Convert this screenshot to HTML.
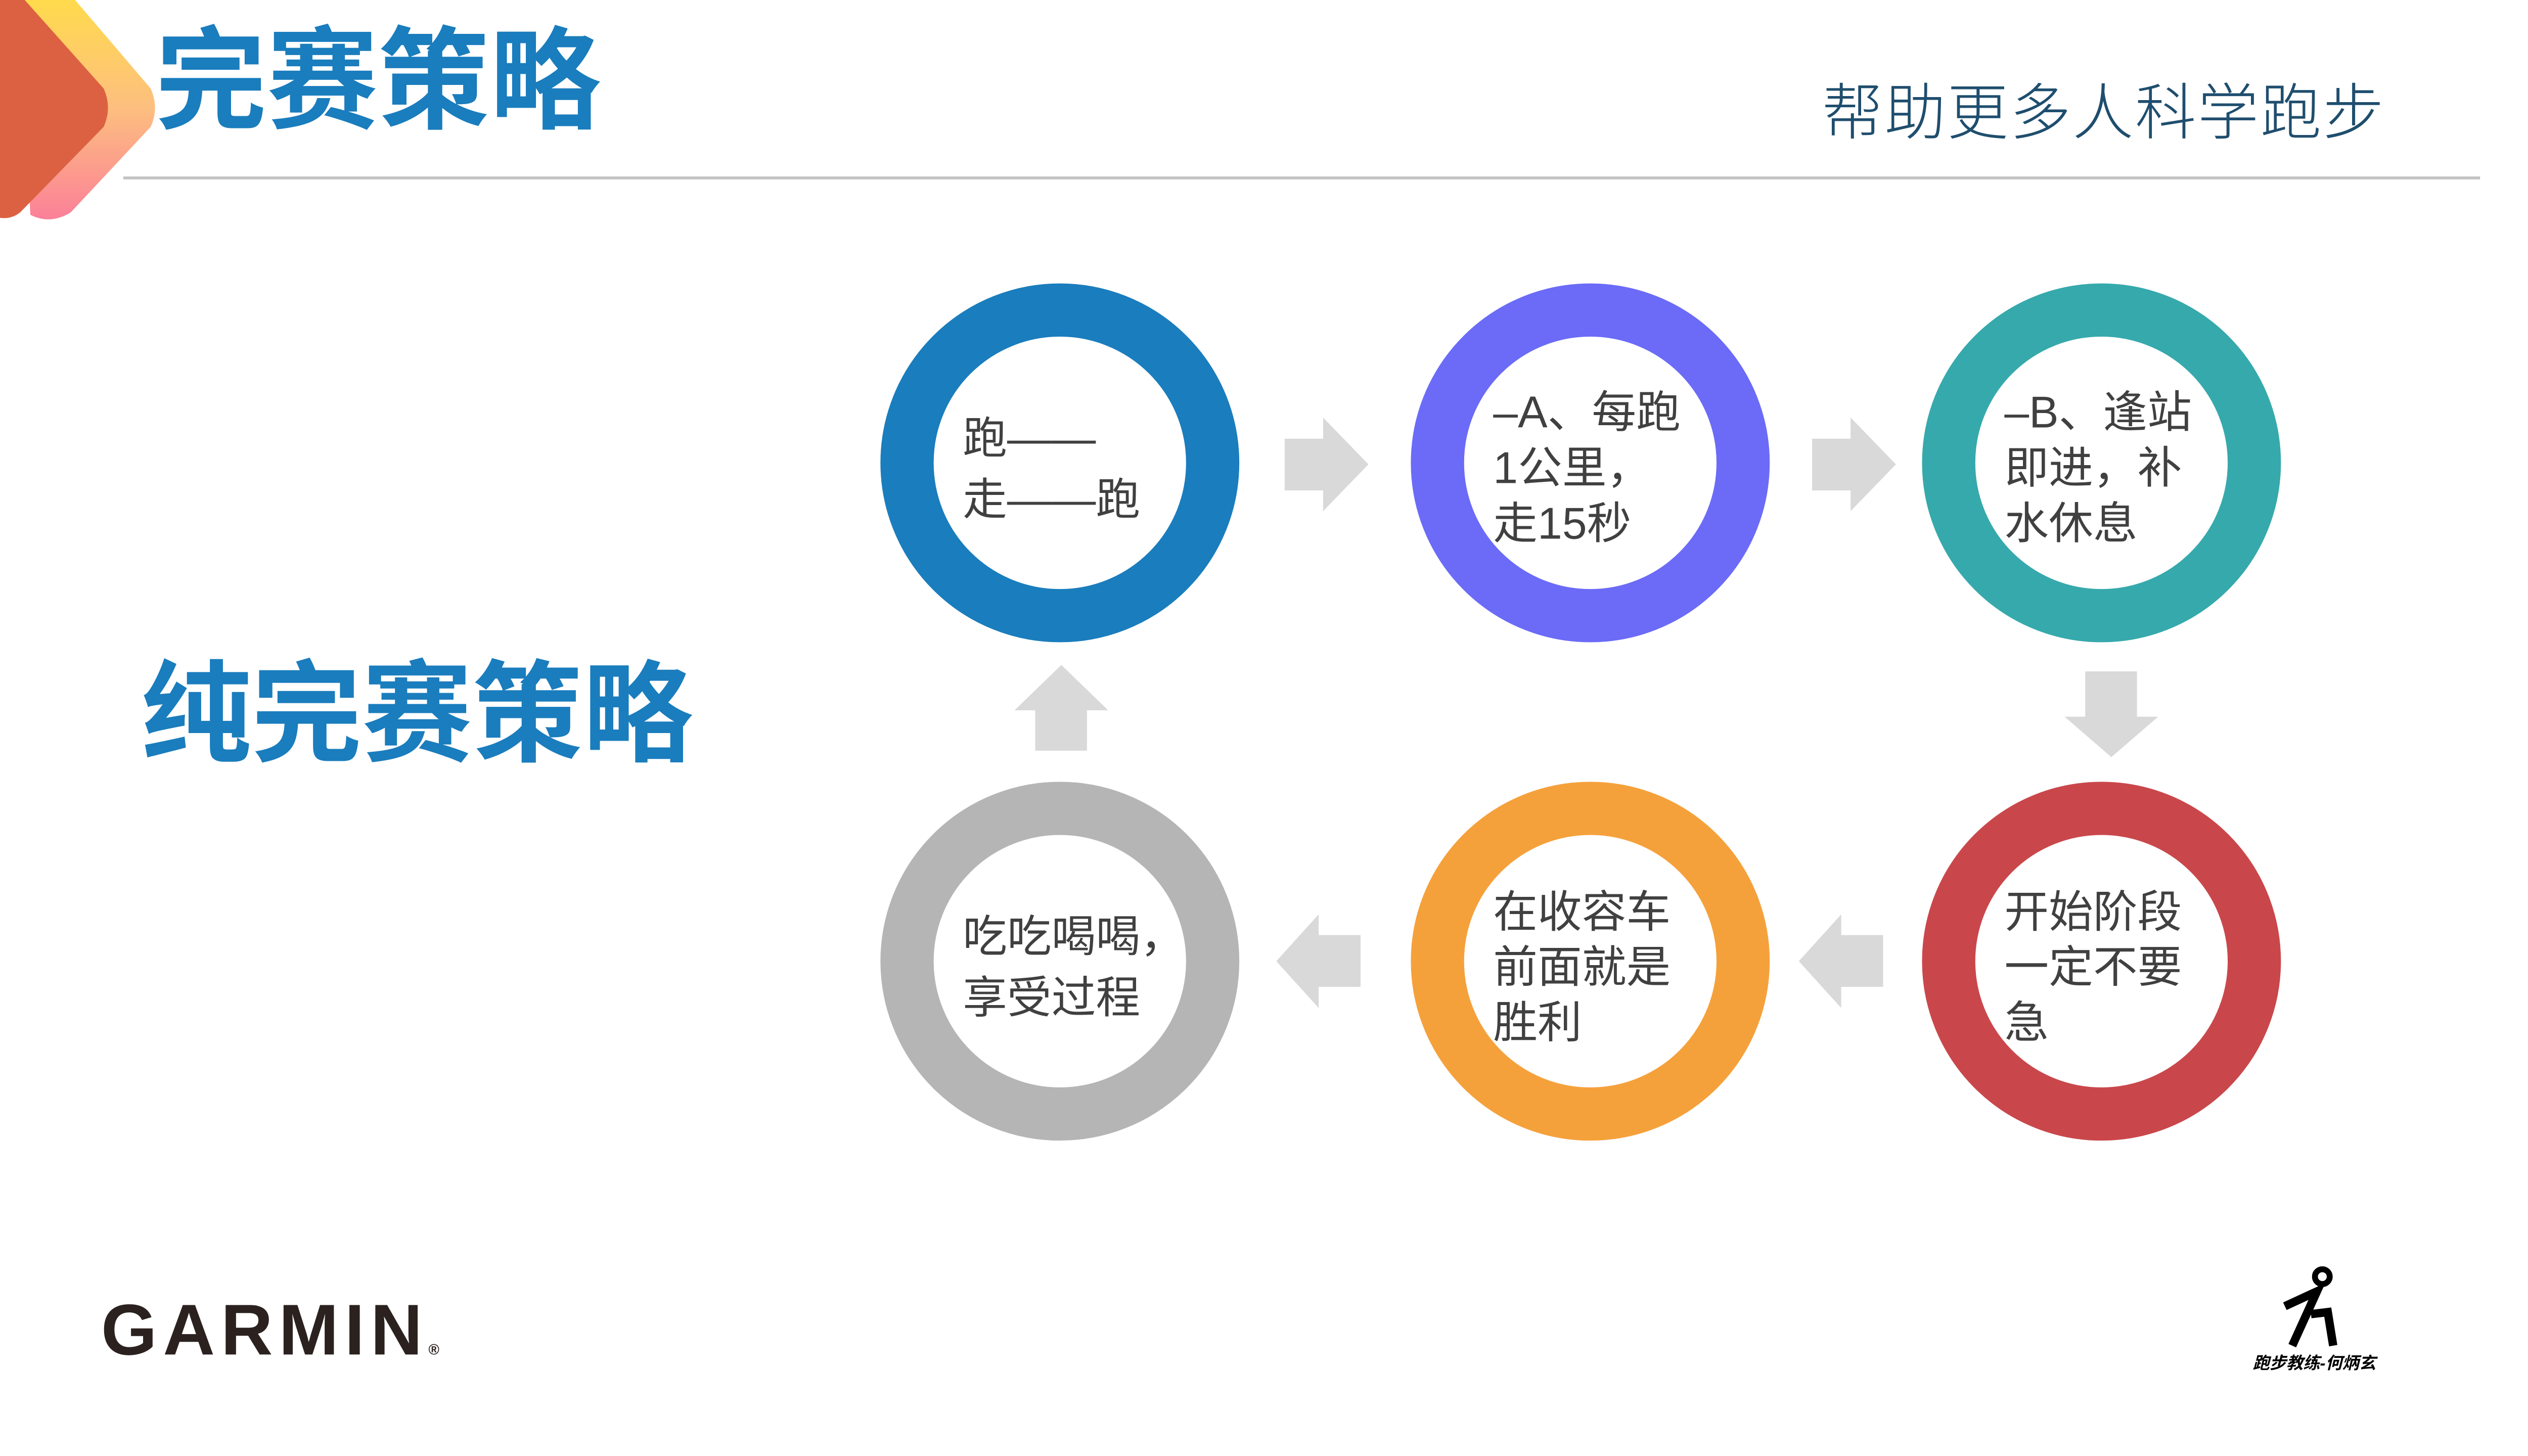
<!DOCTYPE html>
<html><head><meta charset="utf-8"><style>
html,body{margin:0;padding:0;background:#fff}
body{width:5120px;height:2880px;position:relative;overflow:hidden;font-family:"Liberation Sans","Noto Sans CJK SC",sans-serif}
#w{position:absolute;left:0;top:0;width:5120px;height:2880px;transform:scale(0.975);transform-origin:0 0}
#c{position:absolute;left:-10px;top:-3px;width:5120px;height:2880px}
.t{position:absolute;color:#404040;font-size:90px;white-space:nowrap}
</style></head><body>
<div id="w">
<svg width="5120" height="2880" style="position:absolute;left:0;top:0">
<rect x="250" y="358" width="4781" height="6" fill="#c4c4c4"/>
<g stroke="#000" fill="none" stroke-linecap="butt">
<circle cx="4711" cy="2590" r="15" stroke-width="12"/>
<polyline points="4635,2650 4700,2620 4650,2730" stroke-width="17"/>
<polyline points="4688,2666 4722,2662 4733,2730" stroke-width="17"/>
</g>
</svg>
<div id="c">
<svg width="5120" height="2880" style="position:absolute;left:0;top:0">
<g fill="none" stroke-width="108">
<circle cx="2160" cy="942" r="310" stroke="#1a7dbd"/>
<circle cx="3236" cy="942" r="310" stroke="#6b6bf7"/>
<circle cx="4273" cy="942" r="310" stroke="#36a9ac"/>
<circle cx="2160" cy="1953" r="310" stroke="#b5b5b5"/>
<circle cx="3236" cy="1953" r="310" stroke="#f5a13b"/>
<circle cx="4273" cy="1953" r="310" stroke="#c9474b"/>
</g>
<g fill="#d9d9d9">
<polygon points="2616,893 2694,893 2694,850 2786,945 2694,1040 2694,998 2616,998"/>
<polygon points="3686,893 3764,893 3764,850 3856,945 3764,1040 3764,998 3686,998"/>
<polygon points="4240,1365 4345,1365 4345,1457 4388,1457 4293,1539 4198,1457 4240,1457"/>
<polygon points="2770,1900 2685,1900 2685,1858 2599,1953 2685,2048 2685,2005 2770,2005"/>
<polygon points="3830,1900 3745,1900 3745,1858 3659,1953 3745,2048 3745,2005 3830,2005"/>
<polygon points="2110,1526 2215,1526 2215,1444 2258,1444 2163,1352 2068,1444 2110,1444"/>
</g>
</svg>
<div class="t" style="left:1963px;top:831px;line-height:124px">跑——<br>走——跑</div>
<div class="t" style="left:3039px;top:784px;line-height:113px">–A、每跑<br>1公里，<br>走15秒</div>
<div class="t" style="left:4076px;top:784px;line-height:113px">–B、逢站<br>即进，补<br>水休息</div>
<div class="t" style="left:1963px;top:1842px;line-height:124px">吃吃喝喝，<br>享受过程</div>
<div class="t" style="left:3039px;top:1798px;line-height:112px">在收容车<br>前面就是<br>胜利</div>
<div class="t" style="left:4076px;top:1798px;line-height:112px">开始阶段<br>一定不要<br>急</div>
</div>
<div style="position:absolute;left:315px;top:25px;font-size:226px;font-weight:bold;color:#1a7dbd;line-height:280px">完赛策略</div>
<div style="position:absolute;left:3696px;top:150px;font-size:124px;font-weight:300;color:#1f4e6e;line-height:160px;letter-spacing:3px">帮助更多人科学跑步</div>
<div style="position:absolute;left:286px;top:1310px;font-size:224px;font-weight:bold;color:#1a7dbd;line-height:280px">纯完赛策略</div>
<div style="position:absolute;left:205px;top:2618px;font-size:146px;font-weight:bold;color:#2b2220;letter-spacing:12px;line-height:160px">GARMIN<span style="font-size:30px;letter-spacing:0">®</span></div>
<div style="position:absolute;left:4570px;top:2746px;font-size:34px;font-weight:bold;font-style:italic;color:#000;line-height:40px">跑步教练-何炳玄</div>
</div>
<svg width="400" height="460" style="position:absolute;left:0;top:0">
<defs><linearGradient id="g" x1="0" y1="0" x2="0" y2="1"><stop offset="0" stop-color="#ffdc4a"/><stop offset="0.5" stop-color="#fdbf7f"/><stop offset="1" stop-color="#fb8098"/></linearGradient></defs>
<path d="M40 -10 L140 -10 L298 175 Q315 213 298 251 L140 420 Q100 445 60 425 Z" fill="url(#g)"/>
<path d="M-20 -10 L40 -10 L205 175 Q222 213 205 251 L40 420 Q15 440 -20 425 Z" fill="#dc6142"/>
</svg>
</body></html>
